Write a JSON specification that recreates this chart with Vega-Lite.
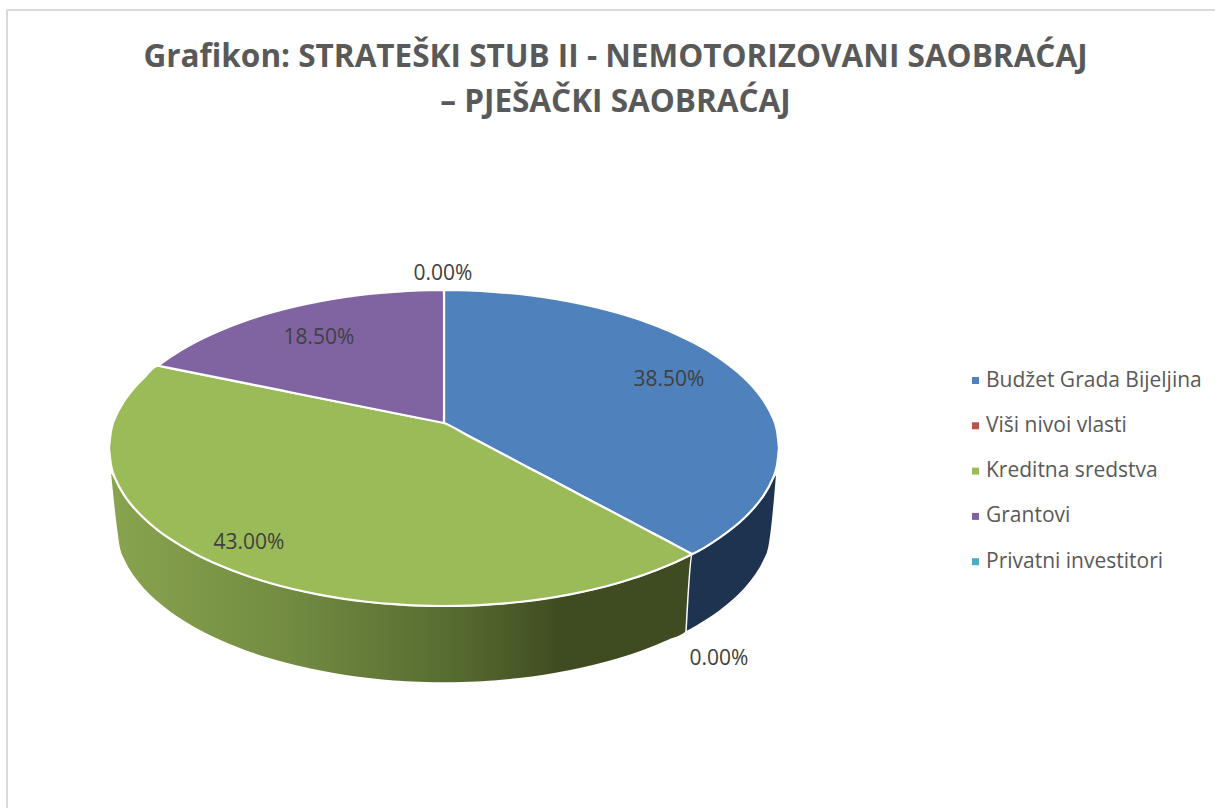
{
"$schema":"https://vega.github.io/schema/vega-lite/v6.json",
"width":1215,"height":808,"padding":0,"autosize":{"type":"none"},
"background":"white",
"view":{"stroke":null},
"title":{"text":["Grafikon: STRATEŠKI STUB II - NEMOTORIZOVANI SAOBRAĆAJ","– PJEŠAČKI SAOBRAĆAJ"],"anchor":"middle","align":"center","baseline":"top","offset":0,"dx":8,"dy":118,"font":"Open Sans","fontSize":31.5,"fontWeight":"bold","color":"#595959","lineHeight":45},
"datasets":{
"slices":[
{"category":"Budžet Grada Bijeljina","x":0,"y":-133,"y2":0},{"category":"Budžet Grada Bijeljina","x":25,"y":-132.6,"y2":13.2},{"category":"Budžet Grada Bijeljina","x":50,"y":-131.2,"y2":26.4},{"category":"Budžet Grada Bijeljina","x":75,"y":-129,"y2":39.6},{"category":"Budžet Grada Bijeljina","x":100,"y":-125.8,"y2":52.8},{"category":"Budžet Grada Bijeljina","x":125,"y":-121.6,"y2":66},{"category":"Budžet Grada Bijeljina","x":150,"y":-116.3,"y2":79.2},{"category":"Budžet Grada Bijeljina","x":175,"y":-109.7,"y2":92.4},{"category":"Budžet Grada Bijeljina","x":200,"y":-101.8,"y2":105.6},{"category":"Budžet Grada Bijeljina","x":225,"y":-92.1,"y2":118.8},{"category":"Budžet Grada Bijeljina","x":248,"y":-81.2,"y2":131},{"category":"Budžet Grada Bijeljina","x":250,"y":-80.2,"y2":130.2},{"category":"Budžet Grada Bijeljina","x":275,"y":-65.2,"y2":115.2},{"category":"Budžet Grada Bijeljina","x":300,"y":-45.3,"y2":95.3},{"category":"Budžet Grada Bijeljina","x":310,"y":-34.9,"y2":84.9},{"category":"Budžet Grada Bijeljina","x":320,"y":-21.8,"y2":71.8},{"category":"Budžet Grada Bijeljina","x":328,"y":-7.1,"y2":57.1},{"category":"Budžet Grada Bijeljina","x":333,"y":7.8,"y2":42.2},{"category":"Budžet Grada Bijeljina","x":335,"y":25,"y2":25},
{"category":"Kreditna sredstva","x":-335,"y":25,"y2":25},{"category":"Kreditna sredstva","x":-333,"y":7.8,"y2":42.2},{"category":"Kreditna sredstva","x":-328,"y":-7.1,"y2":57.1},{"category":"Kreditna sredstva","x":-320,"y":-21.8,"y2":71.8},{"category":"Kreditna sredstva","x":-310,"y":-34.9,"y2":84.9},{"category":"Kreditna sredstva","x":-300,"y":-45.3,"y2":95.3},{"category":"Kreditna sredstva","x":-286,"y":-57.3,"y2":107.3},{"category":"Kreditna sredstva","x":-275,"y":-55.1,"y2":115.2},{"category":"Kreditna sredstva","x":-250,"y":-50.1,"y2":130.2},{"category":"Kreditna sredstva","x":-225,"y":-45.1,"y2":142.1},{"category":"Kreditna sredstva","x":-200,"y":-40.1,"y2":151.8},{"category":"Kreditna sredstva","x":-175,"y":-35.1,"y2":159.7},{"category":"Kreditna sredstva","x":-150,"y":-30,"y2":166.3},{"category":"Kreditna sredstva","x":-125,"y":-25,"y2":171.6},{"category":"Kreditna sredstva","x":-100,"y":-20,"y2":175.8},{"category":"Kreditna sredstva","x":-75,"y":-15,"y2":179},{"category":"Kreditna sredstva","x":-50,"y":-10,"y2":181.2},{"category":"Kreditna sredstva","x":-25,"y":-5,"y2":182.6},{"category":"Kreditna sredstva","x":0,"y":0,"y2":183},{"category":"Kreditna sredstva","x":25,"y":13.2,"y2":182.6},{"category":"Kreditna sredstva","x":50,"y":26.4,"y2":181.2},{"category":"Kreditna sredstva","x":75,"y":39.6,"y2":179},{"category":"Kreditna sredstva","x":100,"y":52.8,"y2":175.8},{"category":"Kreditna sredstva","x":125,"y":66,"y2":171.6},{"category":"Kreditna sredstva","x":150,"y":79.2,"y2":166.3},{"category":"Kreditna sredstva","x":175,"y":92.4,"y2":159.7},{"category":"Kreditna sredstva","x":200,"y":105.6,"y2":151.8},{"category":"Kreditna sredstva","x":225,"y":118.8,"y2":142.1},{"category":"Kreditna sredstva","x":248,"y":131,"y2":131.2},
{"category":"Grantovi","x":-286,"y":-57.3,"y2":-57.3},{"category":"Grantovi","x":-275,"y":-65.2,"y2":-55.1},{"category":"Grantovi","x":-250,"y":-80.2,"y2":-50.1},{"category":"Grantovi","x":-225,"y":-92.1,"y2":-45.1},{"category":"Grantovi","x":-200,"y":-101.8,"y2":-40.1},{"category":"Grantovi","x":-175,"y":-109.7,"y2":-35.1},{"category":"Grantovi","x":-150,"y":-116.3,"y2":-30},{"category":"Grantovi","x":-125,"y":-121.6,"y2":-25},{"category":"Grantovi","x":-100,"y":-125.8,"y2":-20},{"category":"Grantovi","x":-75,"y":-129,"y2":-15},{"category":"Grantovi","x":-50,"y":-131.2,"y2":-10},{"category":"Grantovi","x":-25,"y":-132.6,"y2":-5},{"category":"Grantovi","x":0,"y":-133,"y2":0}
],
"wallGreen":[
{"x":-334,"y":47,"y2":47},{"x":-328,"y":57.1,"y2":103},{"x":-325,"y":63.3,"y2":124.2},{"x":-320,"y":71.8,"y2":137.5},{"x":-310,"y":84.9,"y2":154.3},{"x":-300,"y":95.3,"y2":166.5},{"x":-275,"y":115.2,"y2":188.6},{"x":-250,"y":130.2,"y2":204.6},{"x":-225,"y":142.1,"y2":217.2},{"x":-200,"y":151.8,"y2":227.4},{"x":-175,"y":159.7,"y2":235.8},{"x":-150,"y":166.3,"y2":242.6},{"x":-125,"y":171.6,"y2":248.1},{"x":-100,"y":175.8,"y2":252.5},{"x":-75,"y":179,"y2":255.8},{"x":-50,"y":181.2,"y2":258.2},{"x":-25,"y":182.6,"y2":259.5},{"x":0,"y":183,"y2":260},{"x":25,"y":182.6,"y2":259.5},{"x":50,"y":181.2,"y2":258.2},{"x":75,"y":179,"y2":255.8},{"x":100,"y":175.8,"y2":252.5},{"x":125,"y":171.6,"y2":248.1},{"x":150,"y":166.3,"y2":242.6},{"x":175,"y":159.7,"y2":235.8},{"x":200,"y":151.8,"y2":227.4},{"x":225,"y":142.1,"y2":217.2},{"x":242,"y":134.3,"y2":209},{"x":248,"y":131.2,"y2":131.2}
],
"wallBlue":[
{"x":242,"y":209,"y2":209},{"x":248,"y":131.2,"y2":205.8},{"x":250,"y":130.2,"y2":204.6},{"x":275,"y":115.2,"y2":188.6},{"x":300,"y":95.3,"y2":166.5},{"x":310,"y":84.9,"y2":154.3},{"x":320,"y":71.8,"y2":137.5},{"x":325,"y":63.3,"y2":124.2},{"x":328,"y":57.1,"y2":103},{"x":333,"y":49,"y2":49}
],
"labels":[
{"share":0.385,"x":225,"y":-43},{"share":0,"x":275,"y":236},{"share":0.43,"x":-195,"y":120},{"share":0.185,"x":-125,"y":-85},{"share":0,"x":-1,"y":-149}
]
},
"encoding":{
"x":{"field":"x","type":"quantitative","axis":null,"scale":{"domain":[-444,771],"nice":false,"zero":false}},
"y":{"field":"y","type":"quantitative","axis":null,"scale":{"domain":[-423,385],"range":[0,808],"nice":false,"zero":false}}
},
"layer":[
{"data":{"values":[{"x":-437,"y":-413,"y2":385}]},"mark":{"type":"rule","color":"#d9d9d9","strokeWidth":2},"encoding":{"y2":{"field":"y2"}}},
{"data":{"values":[{"x":-437,"x2":771,"y":-413}]},"mark":{"type":"rule","color":"#d9d9d9","strokeWidth":2},"encoding":{"x2":{"field":"x2"}}},
{"data":{"name":"wallGreen"},"mark":{"type":"area","interpolate":"monotone","stroke":"white","strokeWidth":1.5,"color":{"gradient":"linear","x1":0,"y1":0,"x2":1,"y2":0,"stops":[{"offset":0,"color":"#89a44f"},{"offset":0.3,"color":"#738c42"},{"offset":0.6,"color":"#566a30"},{"offset":0.78,"color":"#3f4b20"},{"offset":1,"color":"#3f4b20"}]}},"encoding":{"y2":{"field":"y2"}}},
{"data":{"name":"wallBlue"},"mark":{"type":"area","interpolate":"monotone","stroke":"white","strokeWidth":1.5,"color":"#1d334f"},"encoding":{"y2":{"field":"y2"}}},
{"data":{"name":"slices"},"mark":{"type":"area","interpolate":"monotone","stroke":"white","strokeWidth":2.2,"strokeJoin":"round"},"encoding":{"y2":{"field":"y2"},
"color":{"field":"category","type":"nominal","scale":{"domain":["Budžet Grada Bijeljina","Viši nivoi vlasti","Kreditna sredstva","Grantovi","Privatni investitori"],"range":["#4f81bd","#c0504d","#9bbb59","#8064a2","#4bacc6"]},
"legend":{"title":null,"orient":"none","legendX":965,"legendY":370,"symbolType":"square","symbolSize":49,"symbolStrokeWidth":0,"labelFont":"Open Sans","labelFontSize":21,"labelColor":"#595959","labelOffset":0,"rowPadding":23.3,"labelLimit":300,"symbolOpacity":1}}}},
{"data":{"name":"labels"},"mark":{"type":"text","font":"Open Sans","fontSize":21,"color":"#404040","align":"center","baseline":"middle"},"encoding":{"text":{"field":"share","type":"quantitative","format":".2%"}}}
]
}
